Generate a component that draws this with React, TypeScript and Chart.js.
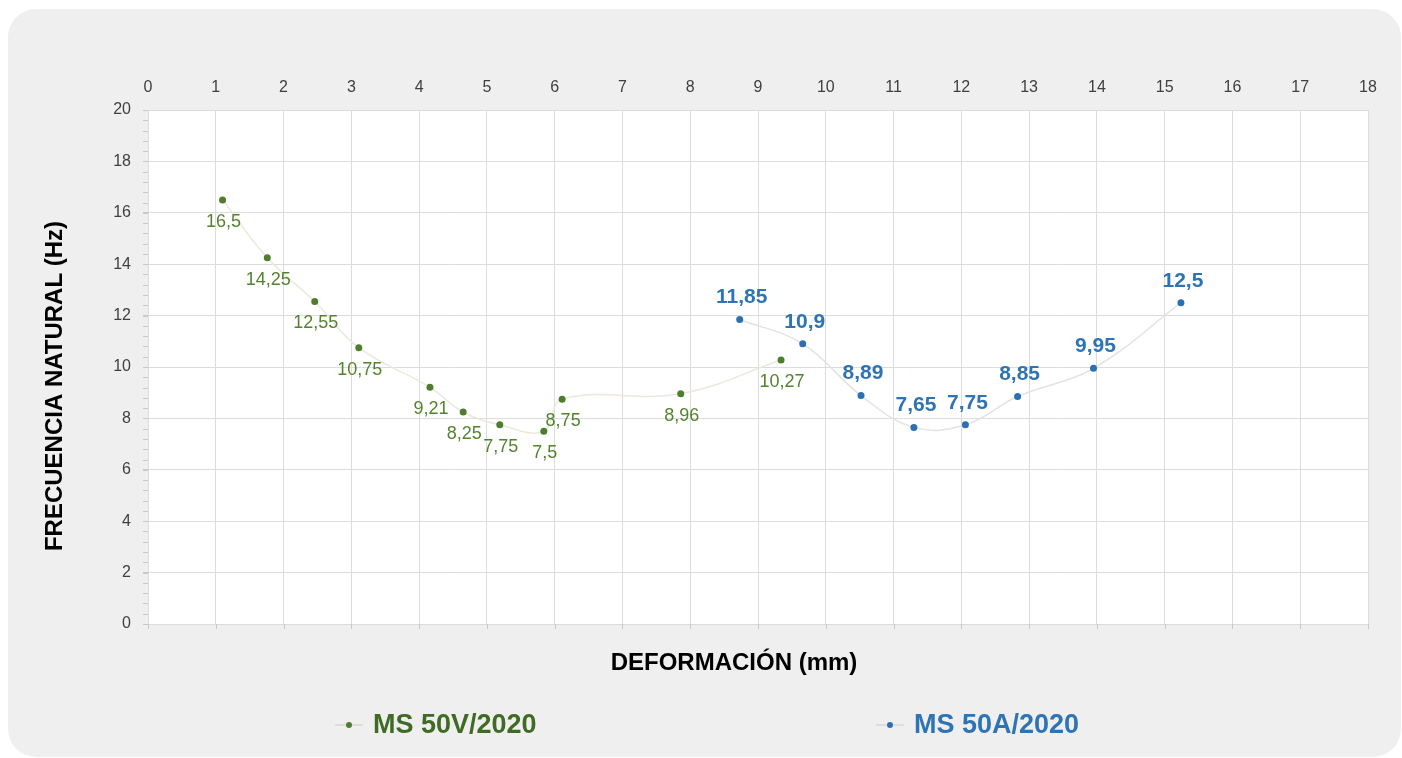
import { useEffect, useRef } from "react";
import { Chart, registerables } from "chart.js";

Chart.register(...registerables);

// ---- Data ----
const seriesNames = ["MS 50V/2020", "MS 50A/2020"];
const v50Deformation = [1.1, 1.76, 2.46, 3.11, 4.16, 4.65, 5.19, 5.84, 6.11, 7.86, 9.34];
const v50Frequency = [16.5, 14.25, 12.55, 10.75, 9.21, 8.25, 7.75, 7.5, 8.75, 8.96, 10.27];
const a50Deformation = [8.73, 9.66, 10.52, 11.3, 12.06, 12.83, 13.95, 15.24];
const a50Frequency = [11.85, 10.9, 8.89, 7.65, 7.75, 8.85, 9.95, 12.5];
const xTickMin = 0;
const xTickMax = 18;
const yTickMin = 0;
const yTickMax = 20;
const xTitle = "DEFORMACIÓN (mm)";
const yTitle = "FRECUENCIA NATURAL (Hz)";

const GREEN = "#4f7d2e";
const GREEN_LABEL = "#54832f";
const GREEN_LEGEND = "#3f6b24";
const BLUE = "#2c70b4";
const BLUE_LABEL = "#2e74b5";
const FONT = "'Liberation Sans', Arial, sans-serif";

const fmt = (v: number) => String(v).replace(".", ",");

const decorPlugin = {
  id: "decor",
  beforeDraw(chart: any) {
    const { ctx, chartArea } = chart;
    ctx.save();
    ctx.fillStyle = "#ffffff";
    ctx.fillRect(chartArea.left, chartArea.top, chartArea.right - chartArea.left, chartArea.bottom - chartArea.top);
    ctx.restore();
  },
  afterDraw(chart: any) {
    const { ctx, chartArea } = chart;
    const y = chart.scales.y;
    const x = chart.scales.x;
    ctx.save();
    // minor ticks on y axis
    ctx.strokeStyle = "#c9c9c9";
    ctx.lineWidth = 1;
    for (let i = 0; i <= 50; i++) {
      const v = yTickMin + (i * (yTickMax - yTickMin)) / 50;
      const py = Math.round(y.getPixelForValue(v)) + 0.5;
      ctx.beginPath();
      ctx.moveTo(chartArea.left - 5, py);
      ctx.lineTo(chartArea.left, py);
      ctx.stroke();
    }
    // small ticks below bottom edge
    for (let v = xTickMin; v <= xTickMax; v++) {
      const px = Math.round(x.getPixelForValue(v)) + 0.5;
      ctx.beginPath();
      ctx.moveTo(px, chartArea.bottom);
      ctx.lineTo(px, chartArea.bottom + 5);
      ctx.stroke();
    }

    // data labels
    chart.data.datasets.forEach((ds: any, di: number) => {
      const meta = chart.getDatasetMeta(di);
      ctx.textAlign = "center";
      ctx.textBaseline = "middle";
      meta.data.forEach((pt: any, i: number) => {
        const val = ds.data[i].y;
        if (di === 0) {
          ctx.font = `18px ${FONT}`;
          ctx.fillStyle = GREEN_LABEL;
          ctx.fillText(fmt(val), pt.x + 1, pt.y + 22);
        } else {
          ctx.font = `bold 21px ${FONT}`;
          ctx.fillStyle = BLUE_LABEL;
          ctx.fillText(fmt(val), pt.x + 2, pt.y - 22);
        }
      });
    });

    // axis titles
    ctx.fillStyle = "#000000";
    ctx.font = `bold 24px ${FONT}`;
    ctx.textAlign = "center";
    ctx.textBaseline = "middle";
    ctx.fillText(xTitle, 726, 654);
    ctx.save();
    ctx.translate(47, 377);
    ctx.rotate(-Math.PI / 2);
    ctx.fillText(yTitle, 0, 0);
    ctx.restore();

    // legend
    const items = [
      { mx: 341, color: GREEN, text: GREEN_LEGEND, line: "#d8d8d0" },
      { mx: 882, color: BLUE, text: BLUE_LABEL, line: "#d8d8d8" },
    ];
    const ly = 716;
    items.forEach((it, i) => {
      ctx.strokeStyle = it.line;
      ctx.lineWidth = 1.5;
      ctx.beginPath();
      ctx.moveTo(it.mx - 14, ly);
      ctx.lineTo(it.mx + 14, ly);
      ctx.stroke();
      ctx.fillStyle = it.color;
      ctx.beginPath();
      ctx.arc(it.mx, ly, 3, 0, Math.PI * 2);
      ctx.fill();
      ctx.font = `bold 27px ${FONT}`;
      ctx.textAlign = "left";
      ctx.textBaseline = "middle";
      ctx.fillStyle = it.text;
      ctx.fillText(seriesNames[i], it.mx + 24, ly + 1);
    });
    ctx.restore();
  },
};

export default function App() {
  const ref = useRef<HTMLCanvasElement | null>(null);
  useEffect(() => {
    if (!ref.current) return;
    const chart = new Chart(ref.current, {
      type: "scatter",
      data: {
        datasets: [
          {
            label: seriesNames[0],
            data: v50Deformation.map((x, i) => ({ x, y: v50Frequency[i] })),
            showLine: true,
            borderColor: "#ebe8dc",
            borderWidth: 1.5,
            tension: 0.4,
            pointRadius: 3.5,
            pointBackgroundColor: GREEN,
            pointBorderColor: GREEN,
            pointBorderWidth: 0,
          },
          {
            label: seriesNames[1],
            data: a50Deformation.map((x, i) => ({ x, y: a50Frequency[i] })),
            showLine: true,
            borderColor: "#e3e3e3",
            borderWidth: 1.5,
            tension: 0.4,
            pointRadius: 3.5,
            pointBackgroundColor: BLUE,
            pointBorderColor: BLUE,
            pointBorderWidth: 0,
          },
        ],
      },
      options: {
        animation: false,
        responsive: true,
        maintainAspectRatio: false,
        layout: { padding: { left: 0, top: 0, right: 33, bottom: 133 } },
        plugins: { legend: { display: false }, tooltip: { enabled: false } },
        scales: {
          x: {
            type: "linear",
            position: "top",
            min: xTickMin,
            max: xTickMax,
            ticks: {
              stepSize: 1,
              color: "#404040",
              font: { family: FONT, size: 16 },
              padding: 13,
            },
            grid: { color: "#dcdcdc", drawTicks: false, lineWidth: 1 },
            border: { display: true, color: "#dcdcdc" },
            afterFit: (s: any) => {
              s.height = 101;
            },
          },
          y: {
            type: "linear",
            min: yTickMin,
            max: yTickMax,
            ticks: {
              stepSize: 2,
              color: "#404040",
              font: { family: FONT, size: 16 },
              padding: 12,
            },
            grid: { color: "#dcdcdc", tickLength: 5, tickColor: "#c9c9c9" },
            border: { display: true, color: "#dcdcdc" },
            afterFit: (s: any) => {
              s.width = 140;
            },
          },
        },
      },
      plugins: [decorPlugin],
    } as any);
    return () => chart.destroy();
  }, []);
  return (
    <div
      style={{
        position: "absolute",
        left: 8,
        top: 9,
        width: 1393,
        height: 748,
        background: "#efefef",
        borderRadius: 28,
        overflow: "hidden",
      }}
    >
      <canvas ref={ref} style={{ width: "100%", height: "100%" }} />
    </div>
  );
}
